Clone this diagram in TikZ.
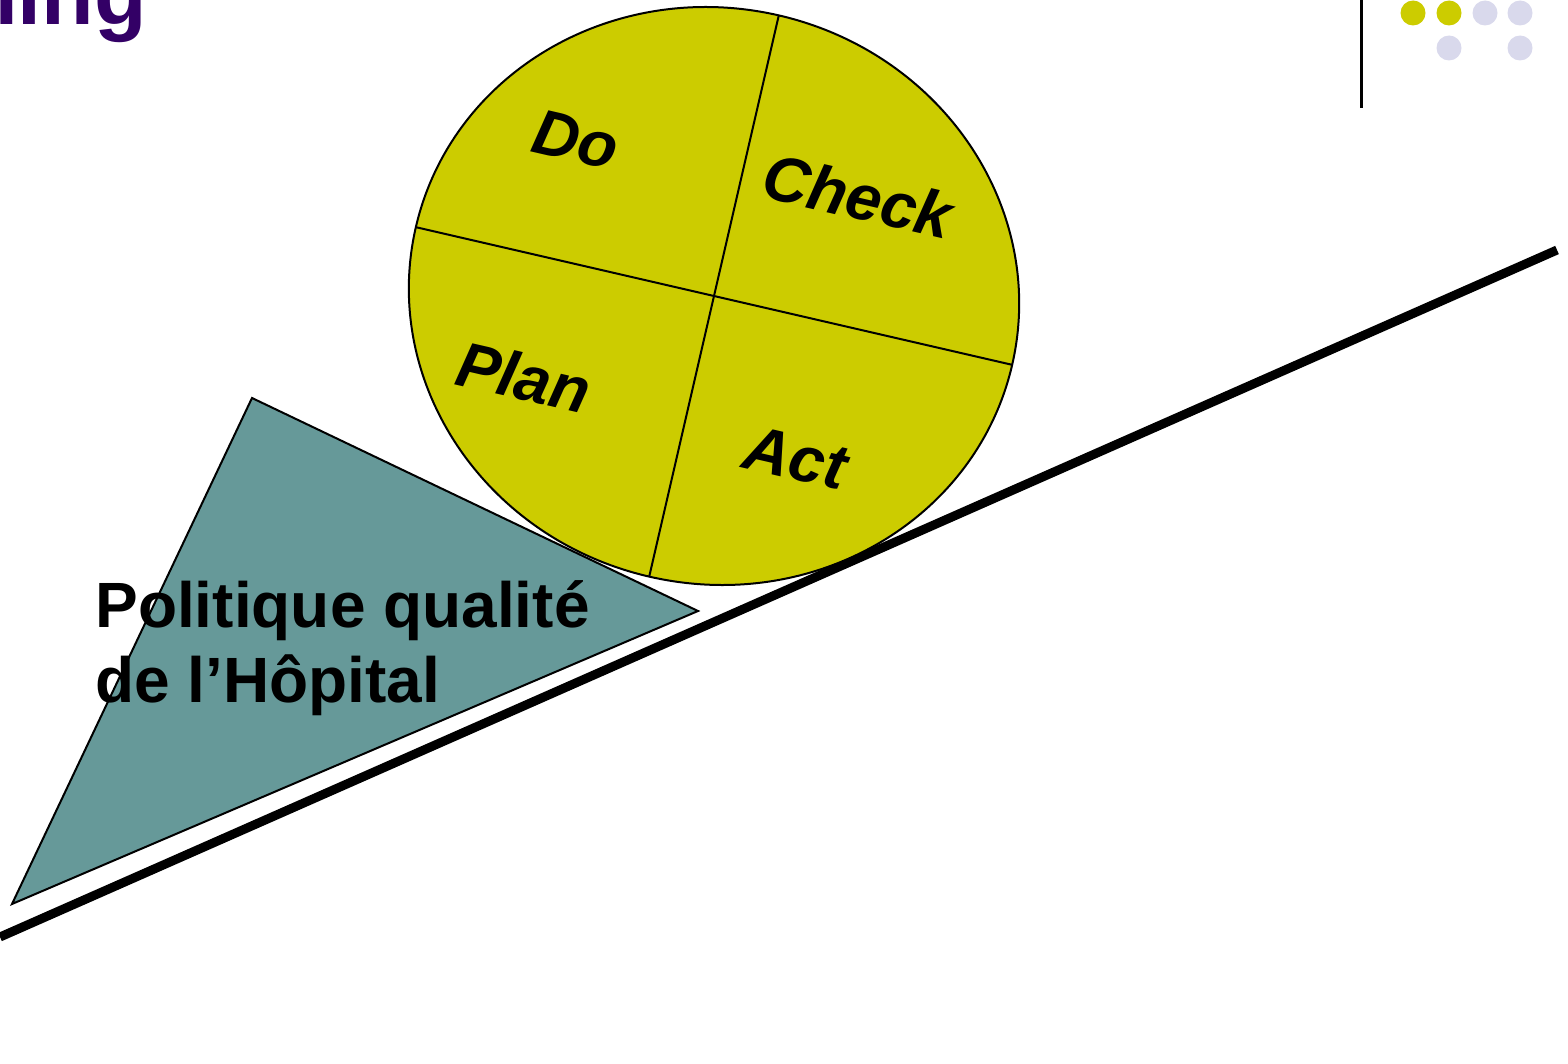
\documentclass[tikz,border=0pt]{standalone}
\usepackage{fontspec}
\setmainfont{Liberation Sans}
\usetikzlibrary{shapes, positioning}
\definecolor{wheelColor}{HTML}{CCCC00}
\definecolor{wedgeColor}{HTML}{669999}
\definecolor{titleColor}{HTML}{330066}
\definecolor{paleDot}{HTML}{D9D9EC}
\colorlet{drawColor}{black}
\tikzstyle{wheel}=[ellipse, draw=drawColor, line width=1pt, fill=wheelColor,
  inner sep=0pt, outer sep=0pt, minimum width=306pt, minimum height=288pt, rotate=-13]
\tikzstyle{stageLabel}=[font=\fontsize{32}{38}\selectfont\bfseries\itshape, rotate=-13, inner sep=0pt]
\tikzstyle{policyText}=[font=\fontsize{32}{37.5}\selectfont\bfseries, align=left, inner sep=0pt]
\tikzstyle{wedge}=[draw=drawColor, line width=1pt]
\tikzstyle{slope}=[line width=4.5pt, draw=black]
\tikzstyle{bullet}=[circle, inner sep=0pt, minimum size=12.5pt]

\begin{document}
\begin{tikzpicture}[x=0.5pt, y=-0.5pt]
      \useasboundingbox (0,0) rectangle (1568,1064);
      \clip (0,0) rectangle (1568,1064);
      % page decoration
      \node[font=\fontsize{43}{43}\selectfont\bfseries, text=titleColor, anchor=base east, inner sep=0pt]
        (title) at (147,25) {ning};
      \coordinate(ruleTop) at (1361,0);
      \coordinate(ruleBottom) at (1361,108);
      \draw[line width=1.5pt] (ruleTop) -- (ruleBottom);
      \node(dotA) at (1413,13) [bullet, fill=wheelColor] {};
      \node(dotB) at (1449,13) [bullet, fill=wheelColor] {};
      \node(dotC) at (1485,13) [bullet, fill=paleDot] {};
      \node(dotD) at (1520,13) [bullet, fill=paleDot] {};
      \node(dotE) at (1449,48) [bullet, fill=paleDot] {};
      \node(dotF) at (1520,48) [bullet, fill=paleDot] {};
      % slope and wedge
      \coordinate(slopeLow) at (0,937);
      \coordinate(slopeHigh) at (1557,250);
      \draw[slope] (slopeLow) -- (slopeHigh);
      \coordinate(wedgeTop) at (252,398);
      \coordinate(wedgeTip) at (698,611);
      \coordinate(wedgeFoot) at (12,904);
      \fill[wedgeColor] (wedgeTop) -- (wedgeTip) -- (wedgeFoot) -- cycle;
      \node(policy) at (95,702) [policyText, anchor=base west] {Politique qualité\\de l’Hôpital};
      \draw[wedge] (wedgeTop) -- (wedgeTip) -- (wedgeFoot) -- cycle;
      % PDCA wheel
      \node(pdca) at (714,296) [wheel] {};
      \draw[line width=1pt] (pdca.west) -- (pdca.east);
      \draw[line width=1pt] (pdca.north) -- (pdca.south);
      \node(do) at (576,140) [stageLabel] {Do};
      \node(check) at (858,196) [stageLabel] {Check};
      \node(plan) at (524,377) [stageLabel] {Plan};
      \node(act) at (796,458) [stageLabel] {Act};
    \end{tikzpicture}
\end{document}
